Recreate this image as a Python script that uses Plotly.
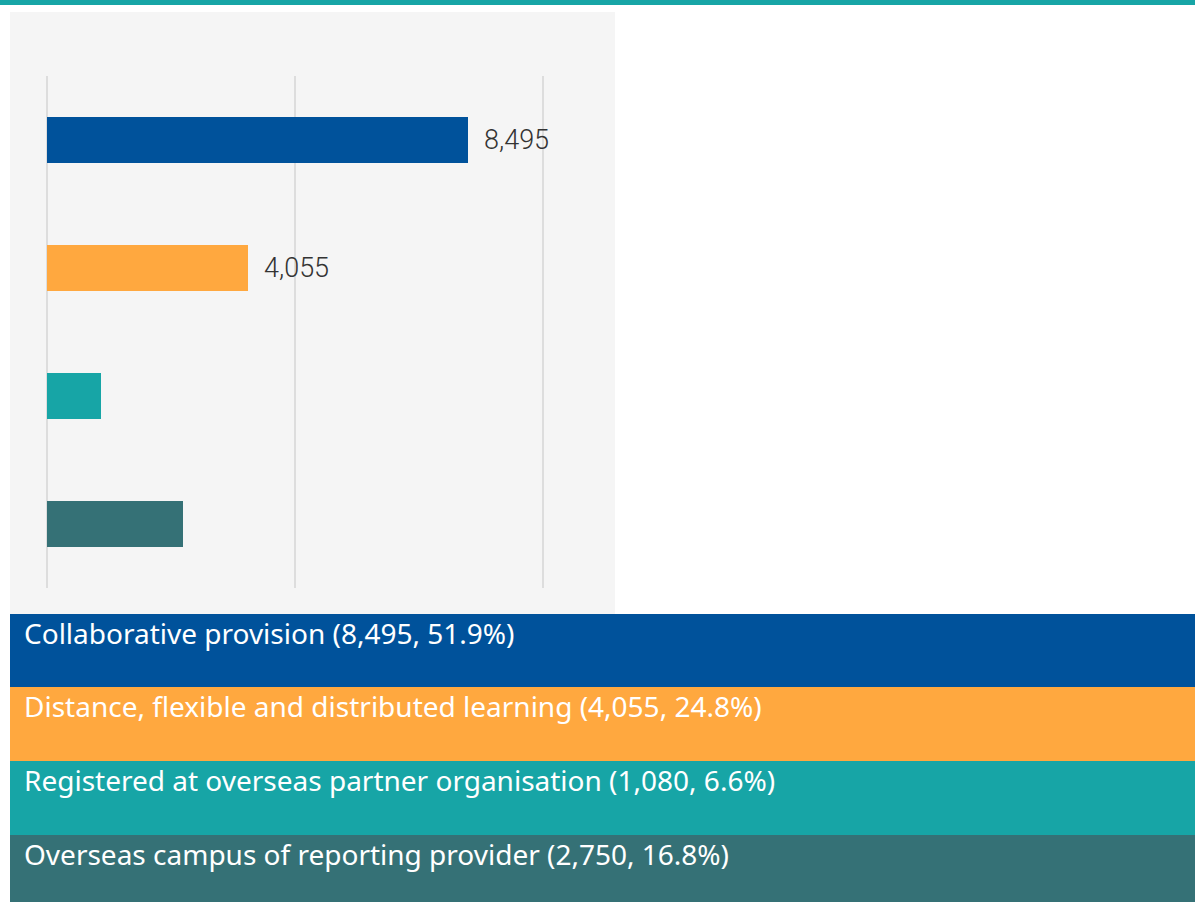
import plotly.graph_objects as go

# Student numbers by type of transnational provision
categories = [
    "Collaborative provision",
    "Distance, flexible and distributed learning",
    "Registered at overseas partner organisation",
    "Overseas campus of reporting provider",
]
values = [8495, 4055, 1080, 2750]
shares = [51.9, 24.8, 6.6, 16.8]
labelled = [True, True, False, False]
colors = ["#00529b", "#ffa83f", "#17a5a6", "#357176"]
tick_values = [0, 5000, 10000]

W, H = 1195, 902


def py(px):
    """Convert a pixel row (from top) into paper coordinates."""
    return 1 - px / H


def pxx(px):
    return px / W


fig = go.Figure()

fig.add_trace(go.Bar(
    x=values,
    y=categories,
    orientation="h",
    marker=dict(color=colors, line=dict(width=0)),
    width=0.36,
    hoverinfo="skip",
    showlegend=False,
))

shapes = []
annotations = []

# top rule and chart panel
shapes.append(dict(type="rect", xref="paper", yref="paper", x0=0, x1=1,
                   y0=py(5), y1=1, fillcolor="#17a5a6", line_width=0, layer="below"))
shapes.append(dict(type="rect", xref="paper", yref="paper", x0=pxx(10), x1=pxx(615),
                   y0=py(617), y1=py(12), fillcolor="#f5f5f5", line_width=0, layer="below"))

# value labels beside the bars
for cat, v, show in zip(categories, values, labelled):
    if show:
        annotations.append(dict(x=v, y=cat, xref="x", yref="y", text=f"{v:,}",
                                showarrow=False, xanchor="left", yanchor="middle",
                                xshift=14,
                                font=dict(family="Roboto", size=27, color="#333333",
                                          weight=300)))

# coloured key bands underneath
band_tops = [614, 687, 761, 835]
band_bottoms = [687, 761, 835, 902]
for cat, v, s, c, t, b in zip(categories, values, shares, colors, band_tops, band_bottoms):
    shapes.append(dict(type="rect", xref="paper", yref="paper", x0=pxx(10), x1=1,
                       y0=py(b), y1=py(t), fillcolor=c, line_width=0, layer="above"))
    annotations.append(dict(x=pxx(22), y=py(t + 19), xref="paper", yref="paper",
                            text=f"{cat} ({v:,}, {s}%)", showarrow=False,
                            xanchor="left", yanchor="middle",
                            font=dict(family="Noto Sans", size=28, color="#ffffff")))

# x axis: 0 sits at px 47 and 10,000 at px 543; padded so edge gridlines show
x_lo_px, x_hi_px = 40, 550
units_per_px = 10000 / (543 - 47)
x_range = [-(47 - x_lo_px) * units_per_px, 10000 + (x_hi_px - 543) * units_per_px]

fig.update_layout(
    width=W, height=H,
    margin=dict(l=0, r=0, t=0, b=0),
    paper_bgcolor="#ffffff",
    plot_bgcolor="rgba(0,0,0,0)",
    shapes=shapes,
    annotations=annotations,
    xaxis=dict(domain=[pxx(x_lo_px), pxx(x_hi_px)], range=x_range, tickvals=tick_values,
               showticklabels=False, showgrid=True, gridcolor="#dddddd", gridwidth=2,
               zeroline=False, showline=False, fixedrange=True),
    yaxis=dict(domain=[py(588), py(76)], range=[3.5, -0.5], showticklabels=False,
               showgrid=False, zeroline=False, showline=False, fixedrange=True),
    bargap=0,
)

fig.write_html("out.html")
